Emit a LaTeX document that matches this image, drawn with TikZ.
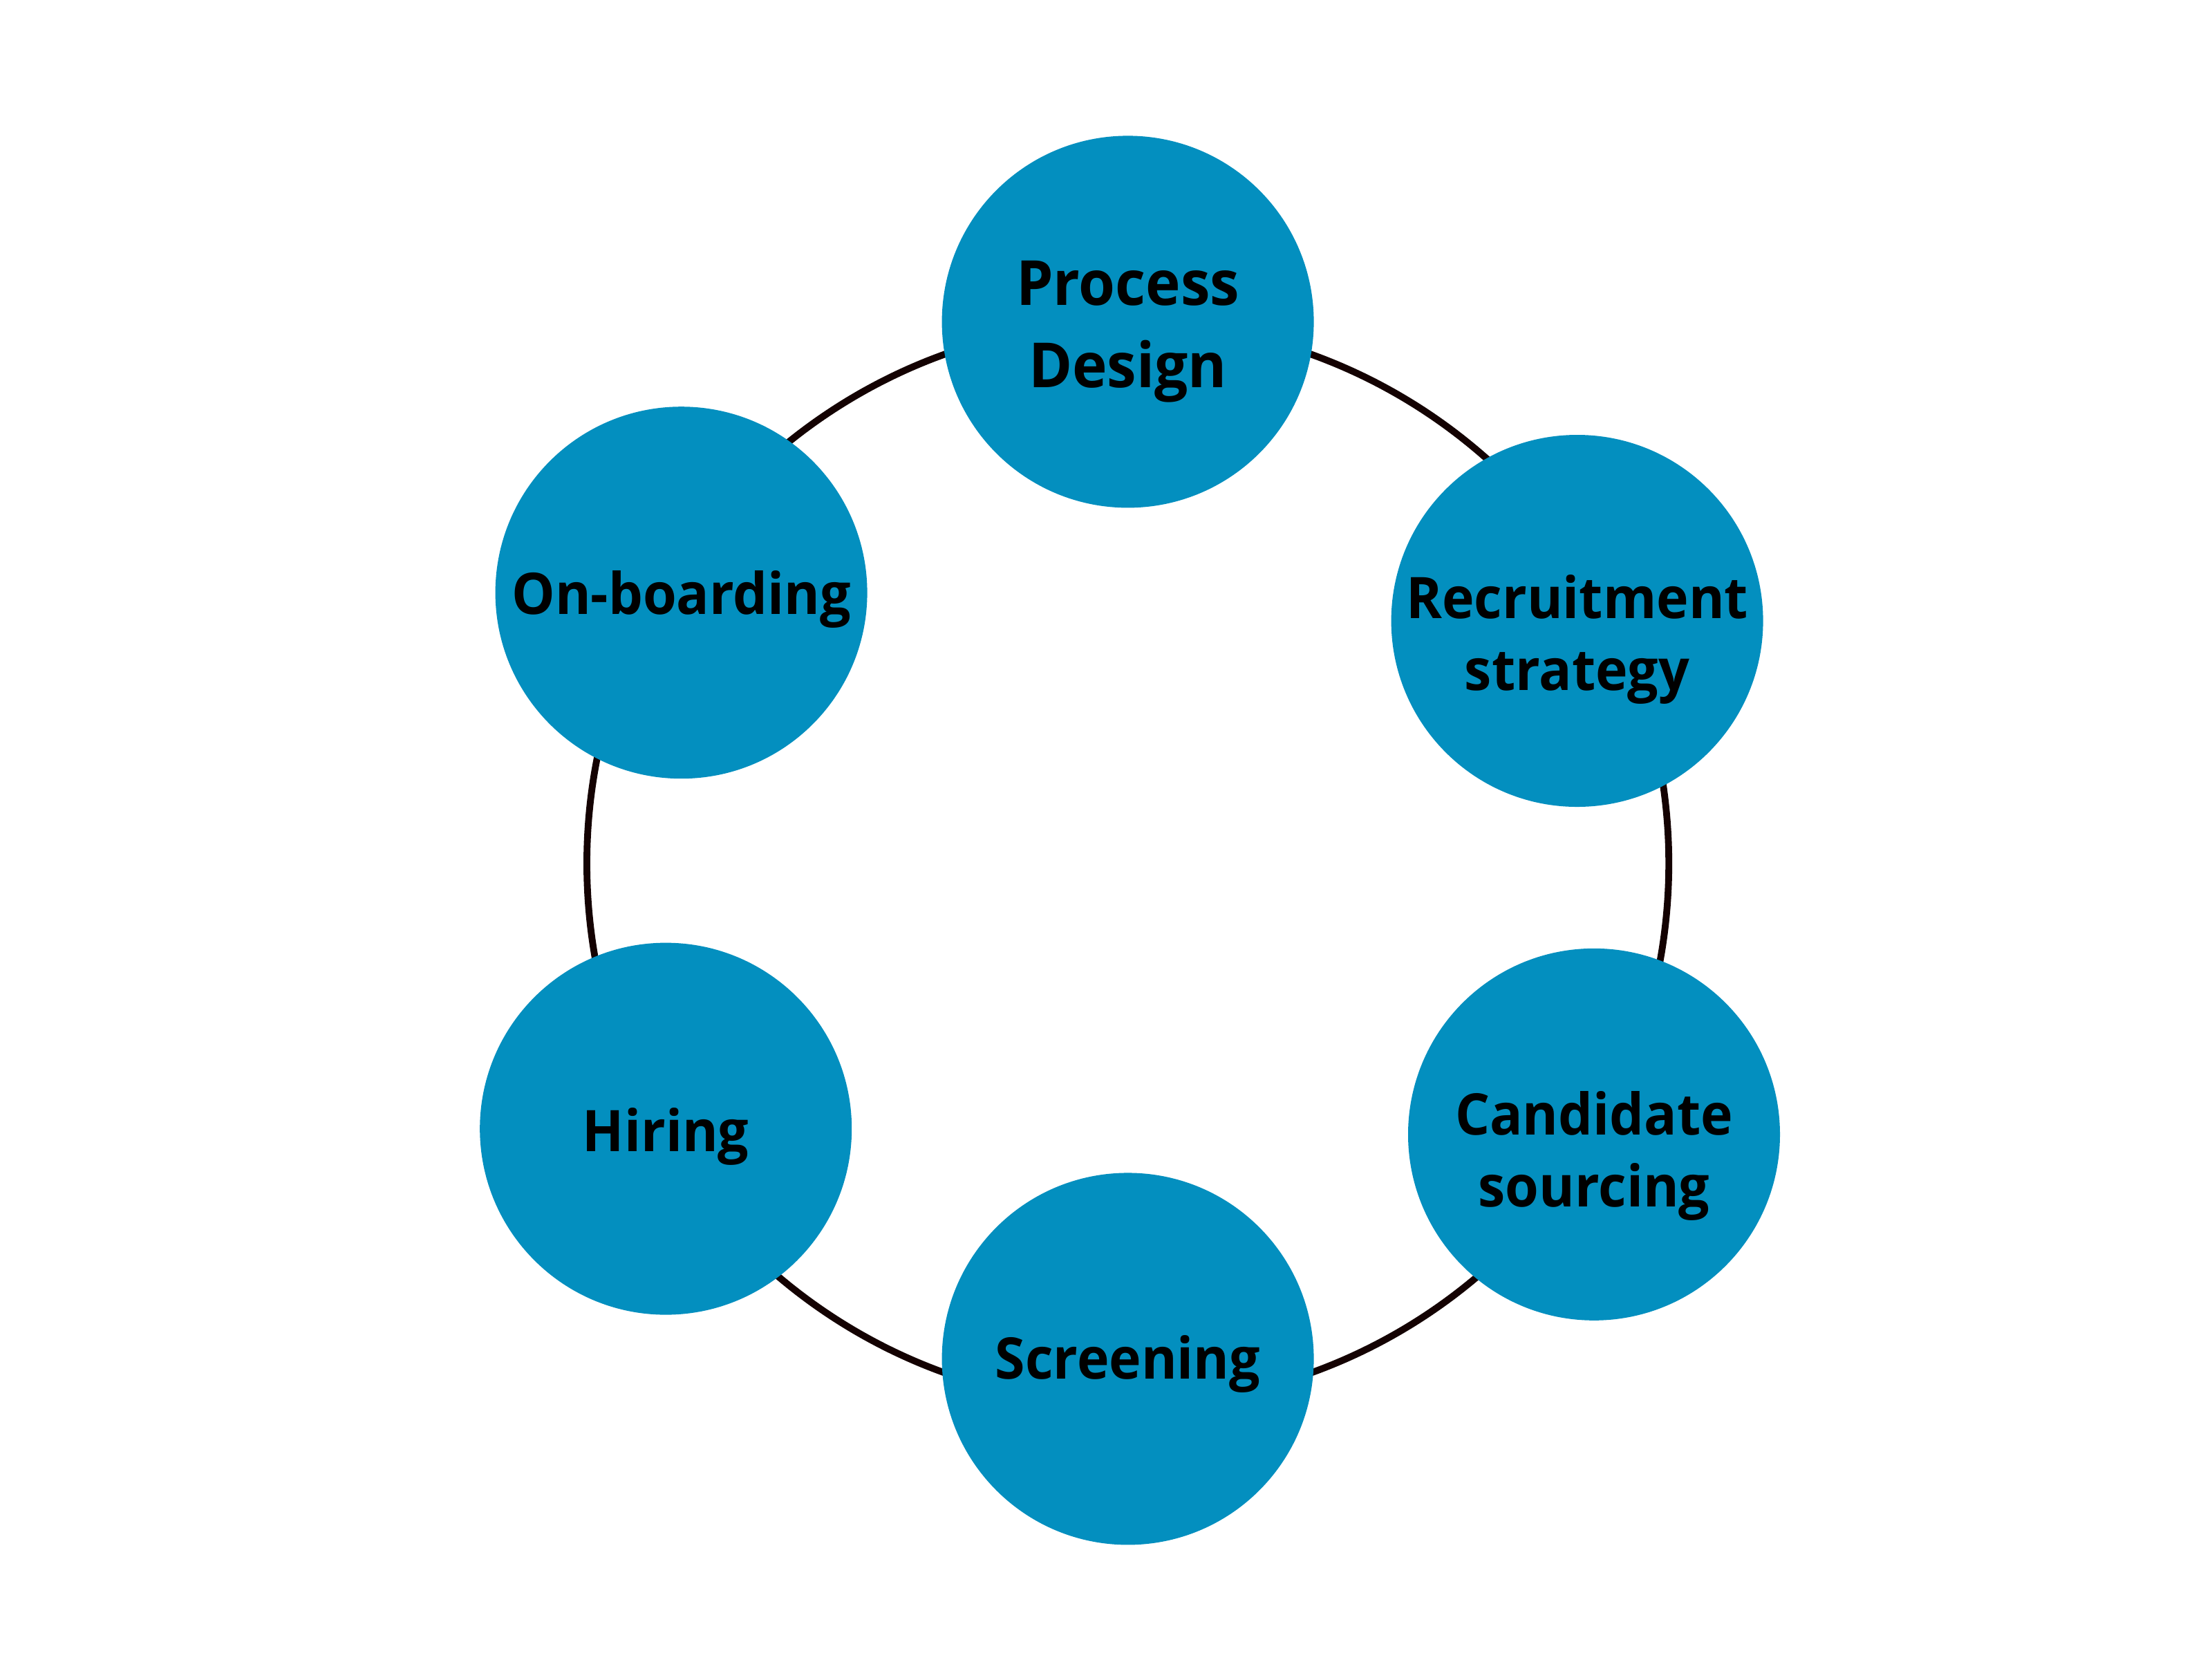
\documentclass[tikz,border=0pt]{standalone}
\usepackage{fontspec}
\setmainfont[FakeStretch=0.95]{Open Sans}
\usetikzlibrary{positioning}
\definecolor{stageblue}{HTML}{038FBF}
\definecolor{ringline}{HTML}{140202}
% text of a stage, lowered a little inside its circle
\newcommand\stagetext[2]{\raisebox{-#1}[\height][\depth]{\begin{tabular}{@{}c@{}}#2\end{tabular}}}

\begin{document}
\begin{tikzpicture}[font=\bfseries\fontsize{11.8}{14.8}\selectfont,
  stage/.style={circle, fill=stageblue, minimum size=2.69cm, inner sep=0pt, text=black},
  ring/.style={draw=ringline, line width=1.4pt}]
  \useasboundingbox (-8.158,-5.755) rectangle (7.842,6.245);
  \coordinate (hub) at (0,0);
  \draw[ring] (hub) circle (3.913);
  % the six stages, clockwise from the top
  \node[stage, font=\bfseries\fontsize{12.8}{16.8}\selectfont] (design) at (0,3.918)
    {\stagetext{0.6mm}{Process\\Design}};
  \node[stage] (strategy) at (3.250,1.755) {\stagetext{1.4mm}{Recruitment\\strategy}};
  \node[stage] (sourcing) at (3.372,-1.959) {\stagetext{1.6mm}{Candidate\\sourcing}};
  \node[stage] (screening) at (0,-3.582) {\stagetext{0.4mm}{Screening}};
  \node[stage] (hiring) at (-3.342,-1.918) {\stagetext{0.6mm}{Hiring}};
  \node[stage] (onboard) at (-3.230,1.959) {\stagetext{0.5mm}{On-boarding}};
\end{tikzpicture}
\end{document}
